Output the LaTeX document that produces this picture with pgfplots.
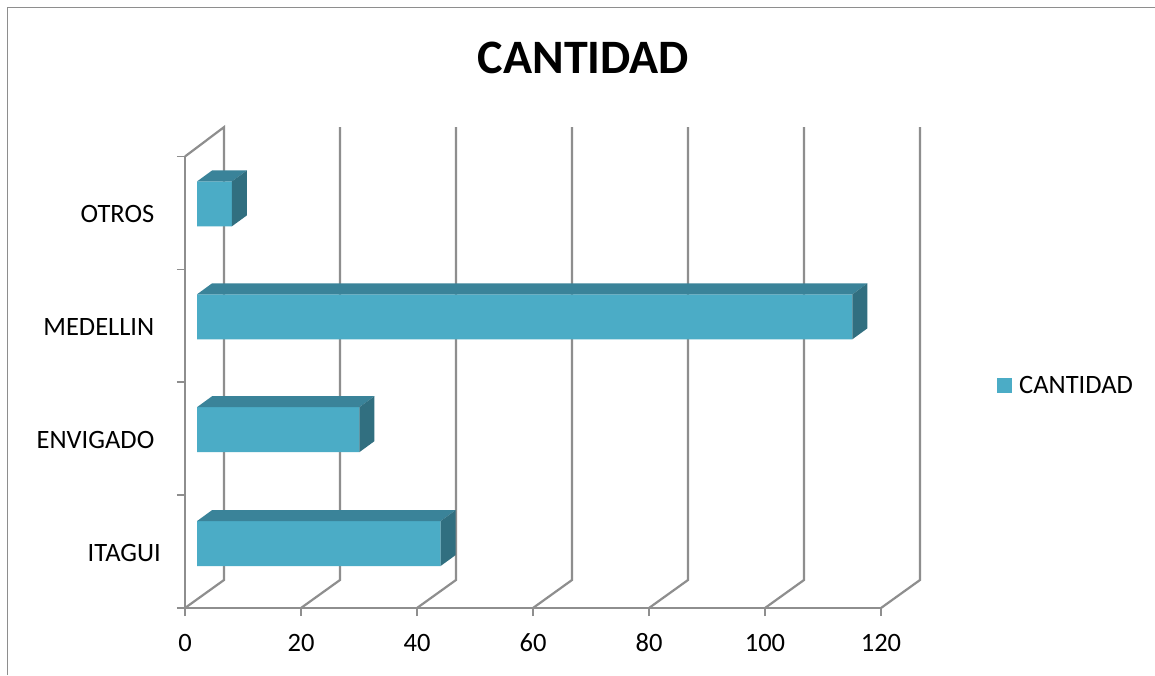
\documentclass[border=0pt]{standalone}
\usepackage{fontspec}
\setmainfont{Carlito}
\usepackage{pgfplots}
\pgfplotsset{compat=1.18}
\definecolor{gl}{HTML}{8E8E8E}
\definecolor{front}{HTML}{4BACC6}
\definecolor{topc}{HTML}{3A8399}
\definecolor{sidec}{HTML}{316F80}
\begin{document}
\begin{tikzpicture}[x=1pt,y=1pt]
\path[use as bounding box,fill=white] (0,0) rectangle (1155,675);
\draw[gl,line width=1.8pt] (7.5,0) -- (7.5,667.5) -- (1155,667.5);
\begin{axis}[
  at={(185pt,67pt)},anchor=south west,
  scale only axis,width=696pt,height=451.5pt,
  xmin=0,xmax=120,ymin=0,ymax=4,
  clip=false,
  axis x line*=bottom,axis y line*=left,
  axis line style={gl,line width=1.8pt,-},
  tick style={gl,line width=1.6pt},
  tick align=outside,
  major tick length=8pt,
  xtick={0,20,40,60,80,100,120},
  ytick={0,1,2,3,4},
  yticklabels={},
  extra y ticks={0.49,1.49,2.49,3.49},
  extra y tick labels={ITAGUI\kern-6.5pt\null,ENVIGADO,MEDELLIN,OTROS},
  extra y tick style={major tick length=0pt,tick style={draw=none}},
  yticklabel style={font=\fontsize{26.5}{26}\selectfont,anchor=east,inner sep=0pt,xshift=-30.5pt},
  xticklabel style={font=\fontsize{26.5}{26}\selectfont,anchor=base,inner sep=0pt,yshift=-35pt},
  /pgf/number format/assume math mode=true,
  legend style={draw=none,fill=none,at={(rel axis cs:1.1667,0.4928)},anchor=west,inner sep=0pt,
    font=\fontsize{26.5}{26}\selectfont,legend cell align=left},
  legend image code/.code={\fill[front] (0pt,-7.5pt) rectangle (15pt,7.5pt);},
  title={\bfseries CANTIDAD},
  title style={font=\fontsize{48}{48}\selectfont,at={(axis description cs:0.5726,1.1695)},anchor=base,inner sep=0pt},
]
% back wall and floor lines
\addplot[gl,line width=2.2pt,forget plot] coordinates {(0,4)(6.72,4.26)(6.72,0.248)(0,0)};
\addplot[gl,line width=2.2pt,forget plot] coordinates {(26.72,4.26)(26.72,0.248)(20,0)};
\addplot[gl,line width=2.2pt,forget plot] coordinates {(46.72,4.26)(46.72,0.248)(40,0)};
\addplot[gl,line width=2.2pt,forget plot] coordinates {(66.72,4.26)(66.72,0.248)(60,0)};
\addplot[gl,line width=2.2pt,forget plot] coordinates {(86.72,4.26)(86.72,0.248)(80,0)};
\addplot[gl,line width=2.2pt,forget plot] coordinates {(106.72,4.26)(106.72,0.248)(100,0)};
\addplot[gl,line width=2.2pt,forget plot] coordinates {(126.72,4.26)(126.72,0.248)(120,0)};
% bar fronts: real values
\addplot[xbar,bar width=45pt,bar shift=0pt,draw=none,fill=front,xshift=12pt] coordinates {(42,0.571)(28,1.58)(113,2.58)(6,3.58)};
\addlegendentry{\kern5pt CANTIDAD}
% top faces
\addplot[fill=topc,draw=none,forget plot] coordinates {(2.07,0.770)(4.66,0.867)(46.66,0.867)(44.07,0.770)} --cycle;
\addplot[fill=topc,draw=none,forget plot] coordinates {(2.07,1.779)(4.66,1.876)(32.66,1.876)(30.07,1.779)} --cycle;
\addplot[fill=topc,draw=none,forget plot] coordinates {(2.07,2.779)(4.66,2.876)(117.66,2.876)(115.07,2.779)} --cycle;
\addplot[fill=topc,draw=none,forget plot] coordinates {(2.07,3.779)(4.66,3.876)(10.66,3.876)(8.07,3.779)} --cycle;
% side faces
\addplot[fill=sidec,draw=none,forget plot] coordinates {(44.07,0.372)(44.07,0.770)(46.66,0.867)(46.66,0.469)} --cycle;
\addplot[fill=sidec,draw=none,forget plot] coordinates {(30.07,1.381)(30.07,1.779)(32.66,1.876)(32.66,1.478)} --cycle;
\addplot[fill=sidec,draw=none,forget plot] coordinates {(115.07,2.381)(115.07,2.779)(117.66,2.876)(117.66,2.478)} --cycle;
\addplot[fill=sidec,draw=none,forget plot] coordinates {(8.07,3.381)(8.07,3.779)(10.66,3.876)(10.66,3.478)} --cycle;
\end{axis}
\end{tikzpicture}
\end{document}
